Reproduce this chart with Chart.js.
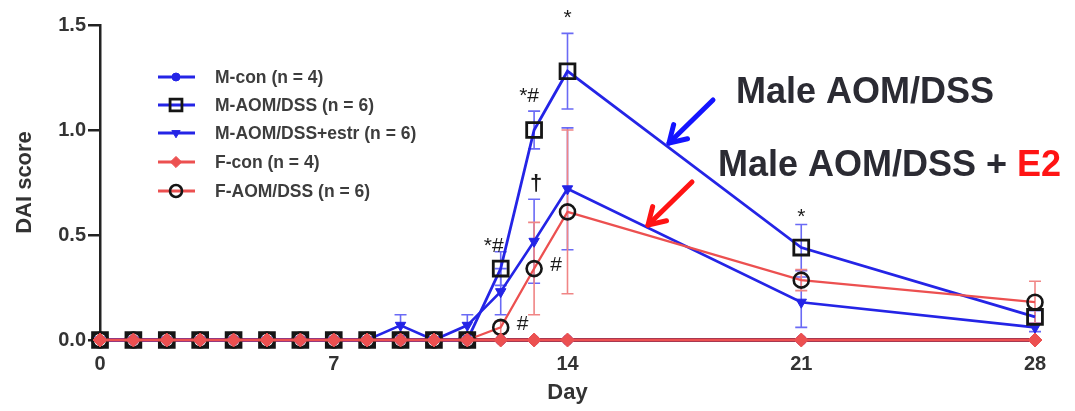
<!DOCTYPE html>
<html>
<head>
<meta charset="utf-8">
<script src="https://cdn.jsdelivr.net/npm/chart.js@4/dist/chart.umd.min.js"></script>
<style>
  html,body{margin:0;padding:0;background:#fff;}
  #wrap{width:1075px;height:411px;position:relative;}
</style>
</head>
<body>
<div id="wrap"><canvas id="c" width="1075" height="411"></canvas></div>
<script>
// ---------- data ----------
const days = [0,1,2,3,4,5,6,7,8,9,10,11,12,13,14,21,28];
const xTickValues = [0,7,14,21,28];
const yTickValues = [0,0.5,1.0,1.5];
const yTickLabels = ['0.0','0.5','1.0','1.5'];

const seriesNames = ['M-con (n = 4)','M-AOM/DSS (n = 6)','M-AOM/DSS+estr (n = 6)','F-con (n = 4)','F-AOM/DSS (n = 6)'];

const mCon     = [0,0,0,0,0,0,0,0,0,0,0,0,0,0,0,0,0];
const mAom     = [0,0,0,0,0,0,0,0,0,0,0,0,0.34,1.00,1.28,0.44,0.11];
const mAomErr  = [0,0,0,0,0,0,0,0,0,0,0,0,0.08,0.09,0.18,0.11,0.03];
const mEstr    = [0,0,0,0,0,0,0,0,0,0.07,0,0.07,0.23,0.47,0.72,0.18,0.06];
const mEstrErr = [0,0,0,0,0,0,0,0,0,0.05,0,0.05,0.11,0.20,0.29,0.12,0.02];
const fCon     = [0,0,0,0,0,0,0,0,0,0,0,0,0,0,0,0,0];
const fAom     = [0,0,0,0,0,0,0,0,0,0,0,0,0.06,0.34,0.61,0.285,0.18];
const fAomErr  = [0,0,0,0,0,0,0,0,0,0,0,0,0.03,0.22,0.39,0.05,0.10];

// significance marks: [text, day, value, pixel dx]
const sigMarks = [
  ['*', 14, 1.56, 0],
  ['*#', 13, 1.162, -5],
  ['\u2020', 13, 0.743, 2],
  ['*#', 12, 0.448, -7],
  ['#', 13, 0.357, 22],
  ['#', 12, 0.076, 22],
  ['*', 21, 0.614, 0]
];

// ---------- styles ----------
const BLUE = '#2424e6';
const BLUE_ERR = '#6a6af5';
const RED = '#ec5050';
const RED_ERR = '#f08585';
const FONT = "'Liberation Sans', Arial, Helvetica, sans-serif";

const toXY = arr => arr.map((v,i)=>({x:days[i], y:v}));

const datasets = [
  {label:seriesNames[0], data:toXY(mCon), borderColor:BLUE, backgroundColor:BLUE, borderWidth:2.5,
   pointStyle:'circle', pointRadius:5, pointBackgroundColor:BLUE, pointBorderColor:BLUE, pointBorderWidth:1, order:5},
  {label:seriesNames[1], data:toXY(mAom), err:mAomErr, errColor:BLUE_ERR, borderColor:BLUE, borderWidth:2.8,
   pointStyle:'rect', pointRadius:10.5, pointBackgroundColor:'rgba(0,0,0,0)', pointBorderColor:'#151515', pointBorderWidth:2.8, order:3},
  {label:seriesNames[2], data:toXY(mEstr), err:mEstrErr, errColor:BLUE_ERR, borderColor:BLUE, borderWidth:2.6,
   pointStyle:'triangle', pointRotation:180, pointRadius:6, pointBackgroundColor:BLUE, pointBorderColor:BLUE, pointBorderWidth:1, order:4},
  {label:seriesNames[3], data:toXY(fCon), borderColor:RED, borderWidth:3,
   pointStyle:'rectRot', pointRadius:7, pointBackgroundColor:RED, pointBorderColor:RED, pointBorderWidth:1, order:1},
  {label:seriesNames[4], data:toXY(fAom), err:fAomErr, errColor:RED_ERR, borderColor:RED, borderWidth:2.2,
   pointStyle:'circle', pointRadius:7.5, pointBackgroundColor:'rgba(0,0,0,0)', pointBorderColor:'#151515', pointBorderWidth:2.6, order:2}
];
datasets.forEach(d=>{ d.clip = false; d.tension = 0; d.fill = false; });

// ---------- plugins ----------
const errorBars = {
  id:'errorBars',
  beforeDatasetsDraw(chart){
    const {ctx, scales:{x,y}} = chart;
    ctx.save();
    chart.data.datasets.forEach(ds=>{
      if(!ds.err) return;
      ctx.strokeStyle = ds.errColor; ctx.lineWidth = 1.6;
      ds.data.forEach((p,i)=>{
        const e = ds.err[i]; if(!e) return;
        const px = x.getPixelForValue(p.x);
        const y1 = y.getPixelForValue(p.y+e), y2 = y.getPixelForValue(Math.max(p.y-e,0));
        ctx.beginPath();
        ctx.moveTo(px,y1); ctx.lineTo(px,y2);
        ctx.moveTo(px-6,y1); ctx.lineTo(px+6,y1);
        if(p.y-e>0){ ctx.moveTo(px-6,y2); ctx.lineTo(px+6,y2); }
        ctx.stroke();
      });
    });
    ctx.restore();
  }
};

function arrow(ctx, x1,y1,x2,y2,color){
  ctx.save();
  ctx.strokeStyle=color; ctx.lineWidth=5; ctx.lineCap='round'; ctx.lineJoin='round';
  ctx.beginPath(); ctx.moveTo(x1,y1); ctx.lineTo(x2,y2); ctx.stroke();
  const a = Math.atan2(y2-y1,x2-x1), L=19;
  ctx.beginPath();
  ctx.moveTo(x2 - L*Math.cos(a-0.55), y2 - L*Math.sin(a-0.55));
  ctx.lineTo(x2,y2);
  ctx.lineTo(x2 - L*Math.cos(a+0.55), y2 - L*Math.sin(a+0.55));
  ctx.stroke();
  ctx.restore();
}

const decor = {
  id:'decor',
  afterDraw(chart){
    const {ctx, scales:{x,y}} = chart;
    ctx.save();
    // significance marks
    ctx.fillStyle='#1a1a1a'; ctx.textAlign='center'; ctx.textBaseline='middle';
    sigMarks.forEach(([t,d,v,dx])=>{
      ctx.font = (t==='\u2020' ? 'bold 22px ' : '21px ') + FONT;
      ctx.fillText(t, x.getPixelForValue(d)+dx, y.getPixelForValue(v)+ (t.startsWith('*')&&t.length===1?6:0));
    });
    // legend
    const rows=[77,105,133,162,191];
    ctx.textAlign='left'; ctx.textBaseline='middle';
    chart.data.datasets.forEach((ds,i)=>{
      const ry=rows[i];
      ctx.strokeStyle=ds.borderColor; ctx.lineWidth=3;
      ctx.beginPath(); ctx.moveTo(158,ry); ctx.lineTo(195,ry); ctx.stroke();
      ctx.fillStyle=ds.pointBackgroundColor; ctx.strokeStyle=ds.pointBorderColor; ctx.lineWidth=ds.pointBorderWidth;
      Chart.helpers.drawPoint(ctx,{pointStyle:ds.pointStyle, rotation:ds.pointRotation||0,
        radius:ds.pointRadius*0.8, borderWidth:ds.pointBorderWidth}, 176, ry);
      ctx.fillStyle='#3d3d3d'; ctx.font='bold 17.5px '+FONT;
      ctx.fillText(ds.label, 215, ry+1);
    });
    // big labels
    ctx.font='bold 36px '+FONT; ctx.textBaseline='alphabetic'; ctx.fillStyle='#2b2b33';
    ctx.fillText('Male AOM/DSS', 736, 103);
    const pre='Male AOM/DSS + ';
    ctx.fillText(pre, 718, 176);
    const w = ctx.measureText(pre).width;
    ctx.fillStyle='#ff1414'; ctx.fillText('E2', 718+w, 176);
    // arrows
    arrow(ctx, 713,100, 669,143, '#1414ff');
    arrow(ctx, 692,182, 648,225, '#ff1414');
    ctx.restore();
  }
};

new Chart(document.getElementById('c'), {
  type:'line',
  data:{datasets},
  plugins:[errorBars, decor],
  options:{
    responsive:false, animation:false, devicePixelRatio:1,
    layout:{padding:{top:25,right:40,left:0,bottom:0}},
    plugins:{legend:{display:false}, tooltip:{enabled:false}},
    scales:{
      x:{type:'linear', min:0, max:28,
        afterFit(s){ s.height = 71; },
        afterBuildTicks(s){ s.ticks = xTickValues.map(v=>({value:v})); },
        grid:{display:false, drawTicks:false},
        border:{display:true, color:'#7a2020', width:4},
        ticks:{color:'#333', padding:12, font:{family:FONT, size:20, weight:'bold'}, maxRotation:0},
        title:{display:true, text:'Day', color:'#333', padding:{top:0,bottom:5}, font:{family:FONT, size:22, weight:'bold'}}
      },
      y:{type:'linear', min:0, max:1.5,
        afterFit(s){ s.width = 100; },
        afterBuildTicks(s){ s.ticks = yTickValues.map(v=>({value:v})); },
        grid:{display:true, drawOnChartArea:false, drawTicks:true, tickLength:12, color:'#222', lineWidth:2.5},
        border:{display:true, color:'#222', width:2.5},
        ticks:{color:'#333', padding:2, font:{family:FONT, size:20, weight:'bold'},
          callback:(v)=>yTickLabels[yTickValues.indexOf(v)]},
        title:{display:true, text:'DAI score', color:'#333', padding:{top:12,bottom:0}, font:{family:FONT, size:22, weight:'bold'}}
      }
    }
  }
});
</script>
</body>
</html>
